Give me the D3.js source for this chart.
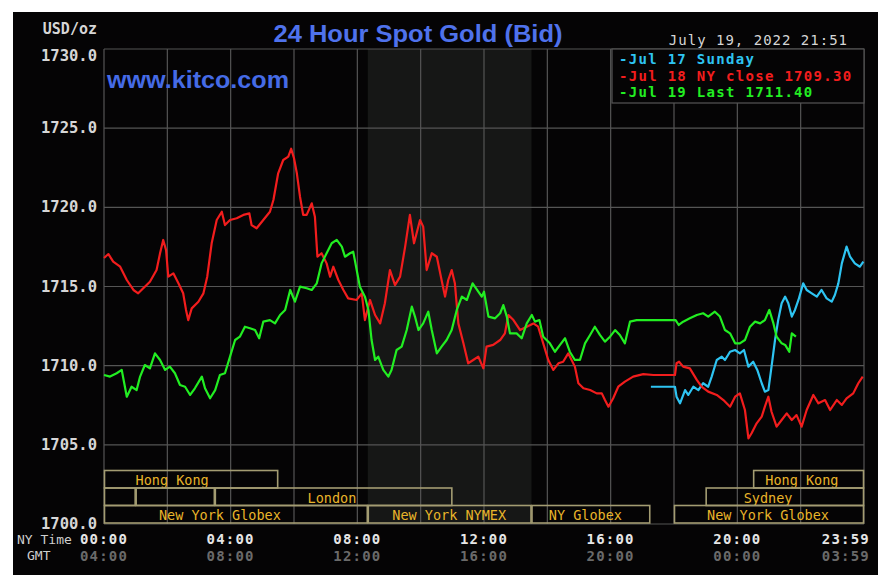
<!DOCTYPE html>
<html>
<head>
<meta charset="utf-8">
<script src="https://cdn.jsdelivr.net/npm/d3@7"></script>
<style>
  body { margin: 0; background: #fff; }
  svg { display: block; }
</style>
</head>
<body>
<div id="chart"></div>
<script>
// 24 hour spot gold chart
// time is in NY hours (0 = 00:00), price in USD/oz

const PRICE_TICKS = [1700, 1705, 1710, 1715, 1720, 1725, 1730];
const NY_TICKS = ['00:00', '04:00', '08:00', '12:00', '16:00', '20:00', '23:59'];
const GMT_TICKS = ['04:00', '08:00', '12:00', '16:00', '20:00', '00:00', '03:59'];
const TICK_HOURS = [0, 4, 8, 12, 16, 20, 24];

const LEGEND = [
    { label: '-Jul 17 Sunday', color: '#2ec4f2' },
    { label: '-Jul 18 NY close 1709.30', color: '#f21d1d' },
    { label: '-Jul 19 Last 1711.40', color: '#22ee22' }
];

// NYMEX session shading
const NYMEX = [8.33, 13.5];

// market sessions: row, start, end, label, label position (hours)
const MARKETS = [
    [0, 0, 5.5, 'Hong Kong', 2.15],
    [0, 20.5, 24, 'Hong Kong', 22.04],
    [1, 0, 1, '', 0],
    [1, 1, 3.5, '', 0],
    [1, 3.5, 11, 'London', 7.2],
    [1, 19, 24, 'Sydney', 20.97],
    [2, 0, 8.33, 'New York Globex', 3.66],
    [2, 8.33, 13.5, 'New York NYMEX', 10.9],
    [2, 13.5, 17.25, 'NY Globex', 15.2],
    [2, 18, 24, 'New York Globex', 20.97]
];

const sunday = [
    [17.27, 1708.67], [18.03, 1708.67], [18.08, 1708.04], [18.19, 1707.62], [18.35, 1708.46],
    [18.45, 1708.15], [18.61, 1708.67], [18.77, 1708.46], [18.92, 1708.89], [19.08, 1708.67],
    [19.19, 1709.31], [19.35, 1710.36], [19.51, 1710.57], [19.61, 1710.36], [19.77, 1710.88],
    [19.93, 1710.99], [20.08, 1710.78], [20.21, 1710.99], [20.35, 1709.94], [20.50, 1710.25],
    [20.63, 1709.73], [20.77, 1708.89], [20.87, 1708.36], [20.98, 1708.46], [21.08, 1709.94],
    [21.19, 1711.62], [21.29, 1712.88], [21.40, 1713.94], [21.51, 1714.36], [21.61, 1713.94],
    [21.72, 1713.10], [21.82, 1713.52], [21.93, 1714.15], [22.08, 1715.20], [22.19, 1714.78],
    [22.35, 1714.57], [22.51, 1714.36], [22.66, 1714.78], [22.82, 1714.25], [22.98, 1714.04],
    [23.08, 1714.46], [23.19, 1715.20], [23.30, 1716.46], [23.45, 1717.52], [23.56, 1716.88],
    [23.71, 1716.46], [23.87, 1716.25], [23.98, 1716.57]
];

const nyClose = [
    [0.00, 1716.80], [0.14, 1717.05], [0.29, 1716.57], [0.51, 1716.25], [0.72, 1715.41],
    [0.93, 1714.78], [1.08, 1714.57], [1.24, 1714.89], [1.45, 1715.30], [1.66, 1716.04],
    [1.77, 1717.10], [1.87, 1717.94], [1.96, 1717.30], [2.03, 1715.62], [2.19, 1715.83],
    [2.35, 1715.20], [2.50, 1714.57], [2.59, 1713.52], [2.66, 1712.88], [2.77, 1713.62],
    [2.98, 1714.04], [3.14, 1714.57], [3.26, 1715.62], [3.40, 1717.73], [3.56, 1719.20],
    [3.72, 1719.72], [3.82, 1718.88], [3.98, 1719.20], [4.19, 1719.31], [4.40, 1719.52],
    [4.59, 1719.62], [4.66, 1718.88], [4.82, 1718.68], [5.03, 1719.20], [5.24, 1719.72],
    [5.35, 1720.46], [5.50, 1722.15], [5.66, 1722.99], [5.82, 1723.20], [5.91, 1723.70],
    [6.00, 1723.10], [6.09, 1722.15], [6.19, 1720.67], [6.29, 1719.52], [6.40, 1719.52],
    [6.56, 1720.25], [6.66, 1719.41], [6.74, 1716.88], [6.87, 1717.10], [7.03, 1716.46],
    [7.14, 1715.62], [7.24, 1716.25], [7.40, 1715.41], [7.56, 1714.78], [7.71, 1714.25],
    [7.98, 1714.15], [8.14, 1714.57], [8.24, 1712.88], [8.40, 1714.15], [8.56, 1713.20],
    [8.72, 1712.67], [8.87, 1713.94], [9.03, 1716.04], [9.19, 1715.09], [9.35, 1715.62],
    [9.51, 1717.52], [9.66, 1719.52], [9.79, 1717.73], [9.98, 1719.20], [10.08, 1718.78],
    [10.19, 1716.04], [10.35, 1717.10], [10.51, 1716.88], [10.66, 1715.41], [10.77, 1714.36],
    [10.87, 1715.41], [10.98, 1716.04], [11.08, 1715.20], [11.19, 1712.67], [11.35, 1711.41],
    [11.50, 1710.15], [11.66, 1710.36], [11.82, 1710.57], [11.98, 1709.83], [12.08, 1711.20],
    [12.29, 1711.31], [12.51, 1711.62], [12.66, 1712.04], [12.77, 1713.20], [12.93, 1712.88],
    [13.14, 1712.25], [13.35, 1712.46], [13.56, 1712.67], [13.71, 1712.46], [13.87, 1711.41],
    [14.03, 1710.36], [14.19, 1709.73], [14.35, 1710.15], [14.50, 1710.25], [14.66, 1710.78],
    [14.87, 1709.94], [14.98, 1708.89], [15.14, 1708.57], [15.35, 1708.46], [15.56, 1708.25],
    [15.72, 1708.25], [15.82, 1707.83], [15.93, 1707.41], [16.08, 1707.94], [16.24, 1708.67],
    [16.45, 1708.99], [16.71, 1709.31], [17.03, 1709.47], [17.35, 1709.41], [18.03, 1709.41],
    [18.08, 1710.15], [18.16, 1710.25], [18.29, 1709.94], [18.50, 1709.83], [18.72, 1709.10],
    [18.87, 1708.67], [19.08, 1708.36], [19.35, 1708.15], [19.56, 1707.83], [19.77, 1707.41],
    [19.93, 1708.04], [20.08, 1708.25], [20.24, 1707.20], [20.35, 1705.41], [20.45, 1705.73],
    [20.61, 1706.36], [20.77, 1706.78], [20.87, 1707.41], [20.98, 1708.04], [21.08, 1707.09],
    [21.24, 1706.15], [21.40, 1706.57], [21.56, 1706.99], [21.72, 1706.57], [21.87, 1706.88],
    [22.03, 1706.15], [22.19, 1707.20], [22.40, 1708.15], [22.56, 1707.62], [22.77, 1707.83],
    [22.93, 1707.20], [23.14, 1707.83], [23.30, 1707.52], [23.45, 1707.94], [23.66, 1708.25],
    [23.82, 1708.89], [23.96, 1709.31]
];

const lastDay = [
    [0.00, 1709.41], [0.19, 1709.31], [0.40, 1709.52], [0.56, 1709.73], [0.72, 1708.04],
    [0.87, 1708.67], [1.03, 1708.46], [1.14, 1709.31], [1.29, 1710.04], [1.45, 1709.83],
    [1.61, 1710.78], [1.77, 1710.36], [1.93, 1709.73], [2.08, 1709.94], [2.24, 1709.52],
    [2.40, 1708.78], [2.56, 1708.67], [2.72, 1708.15], [2.87, 1708.57], [3.09, 1709.31],
    [3.19, 1708.57], [3.35, 1707.94], [3.51, 1708.46], [3.66, 1709.41], [3.82, 1709.52],
    [3.98, 1710.57], [4.14, 1711.62], [4.29, 1711.83], [4.45, 1712.46], [4.61, 1712.36],
    [4.77, 1712.25], [4.90, 1711.73], [5.03, 1712.78], [5.24, 1712.88], [5.40, 1712.67],
    [5.56, 1713.20], [5.72, 1713.52], [5.88, 1714.78], [6.03, 1714.04], [6.19, 1714.99],
    [6.40, 1714.89], [6.56, 1714.78], [6.72, 1715.20], [6.87, 1716.46], [7.03, 1717.10],
    [7.19, 1717.73], [7.35, 1717.94], [7.51, 1717.52], [7.61, 1716.88], [7.77, 1717.10],
    [7.87, 1717.20], [7.98, 1716.04], [8.08, 1714.99], [8.24, 1714.36], [8.35, 1713.52],
    [8.45, 1711.62], [8.56, 1710.36], [8.66, 1710.57], [8.82, 1709.73], [8.98, 1709.31],
    [9.08, 1709.73], [9.24, 1710.99], [9.40, 1711.20], [9.56, 1712.25], [9.72, 1713.73],
    [9.82, 1713.10], [9.93, 1712.25], [10.08, 1712.67], [10.24, 1713.41], [10.35, 1712.25],
    [10.51, 1710.78], [10.66, 1711.20], [10.82, 1711.62], [10.98, 1712.25], [11.14, 1713.52],
    [11.30, 1714.36], [11.46, 1714.15], [11.64, 1715.20], [11.82, 1714.67], [11.93, 1714.36],
    [12.00, 1714.67], [12.14, 1713.10], [12.35, 1712.99], [12.51, 1713.31], [12.61, 1713.83],
    [12.72, 1713.10], [12.82, 1712.04], [13.03, 1712.04], [13.19, 1711.73], [13.35, 1712.67],
    [13.51, 1713.20], [13.61, 1712.78], [13.75, 1712.88], [13.87, 1711.83], [14.08, 1711.41],
    [14.24, 1710.88], [14.40, 1711.31], [14.56, 1711.73], [14.71, 1710.88], [14.87, 1710.36],
    [15.03, 1710.36], [15.19, 1711.41], [15.35, 1711.94], [15.50, 1712.46], [15.66, 1711.94],
    [15.82, 1711.52], [15.98, 1711.83], [16.14, 1712.25], [16.29, 1711.94], [16.45, 1711.41],
    [16.61, 1712.78], [16.82, 1712.88], [17.03, 1712.88], [18.05, 1712.88], [18.15, 1712.57],
    [18.29, 1712.78], [18.50, 1712.99], [18.72, 1713.20], [18.92, 1713.31], [19.08, 1713.10],
    [19.29, 1713.41], [19.45, 1713.10], [19.61, 1712.25], [19.77, 1712.04], [19.93, 1711.41],
    [20.08, 1711.41], [20.24, 1711.62], [20.40, 1712.46], [20.56, 1712.78], [20.72, 1712.67],
    [20.87, 1712.88], [21.01, 1713.52], [21.14, 1712.67], [21.24, 1711.83], [21.40, 1711.41],
    [21.51, 1711.31], [21.64, 1710.88], [21.72, 1712.04], [21.85, 1711.83]
];

(function () {
    const W = 890, H = 587;
    const left = 104, right = 864, top = 49, bottom = 524;
    const GRID = '#555555';
    const MONO = '"DejaVu Sans Mono", "Liberation Mono", monospace';

    const svg = d3.select('#chart').append('svg').attr('width', W).attr('height', H);

    // black panel
    svg.append('rect').attr('x', 13).attr('y', 12).attr('width', 865).attr('height', 563).attr('fill', '#050405');

    const x = d3.scaleLinear().domain([0, 24]).range([left, right]);
    const y = d3.scaleLinear().domain([1700, 1730]).range([bottom, top]);

    // NYMEX shaded band
    svg.append('rect')
        .attr('x', x(NYMEX[0])).attr('y', top)
        .attr('width', x(NYMEX[1]) - x(NYMEX[0])).attr('height', bottom - top)
        .attr('fill', '#161716');

    // grid
    const grid = svg.append('g').attr('stroke', GRID).attr('stroke-width', 1.2);
    d3.range(0, 25, 2).forEach(h => {
        grid.append('line').attr('x1', x(h)).attr('x2', x(h)).attr('y1', top).attr('y2', bottom);
    });
    PRICE_TICKS.forEach(v => {
        grid.append('line').attr('x1', left).attr('x2', right).attr('y1', y(v)).attr('y2', y(v));
    });

    // market session boxes
    const rowTop = [470.5, 488, 505.5];
    const rowH = 17.5;
    const mk = svg.append('g');
    MARKETS.forEach(m => {
        const [row, s, e, label, at] = m;
        mk.append('rect')
            .attr('x', x(s) + 0.5).attr('y', rowTop[row])
            .attr('width', x(e) - x(s) - 1).attr('height', rowH)
            .attr('fill', 'none').attr('stroke', '#a39c72').attr('stroke-width', 1.6);
        if (label) {
            mk.append('text').attr('x', x(at)).attr('y', rowTop[row] + rowH / 2 + 1)
                .attr('text-anchor', 'middle').attr('dominant-baseline', 'central')
                .style('font-family', MONO).style('font-size', '13.5px')
                .attr('fill', '#e9b52a').text(label);
        }
    });

    // price lines
    const line = d3.line().x(d => x(d[0])).y(d => y(d[1]));
    [[sunday, LEGEND[0].color], [nyClose, LEGEND[1].color], [lastDay, LEGEND[2].color]].forEach(([data, color]) => {
        svg.append('path').datum(data).attr('d', line)
            .attr('fill', 'none').attr('stroke', color).attr('stroke-width', 2.2)
            .attr('stroke-linejoin', 'round');
    });

    // legend box
    const lg = svg.append('g');
    lg.append('rect').attr('x', 612).attr('y', top).attr('width', right - 612).attr('height', 54)
        .attr('fill', '#050405').attr('stroke', GRID).attr('stroke-width', 1.2);
    LEGEND.forEach((d, i) => {
        lg.append('text').attr('x', 619).attr('y', 64 + i * 16.5)
            .style('font-family', MONO).style('font-size', '14px').style('font-weight', 'bold')
            .style('letter-spacing', '1.3px')
            .attr('fill', d.color).text(d.label);
    });

    // titles
    svg.append('text').attr('x', 418).attr('y', 42).attr('text-anchor', 'middle')
        .style('font-family', '"Liberation Sans", Arial, sans-serif').style('font-size', '23px').style('font-weight', 'bold')
        .attr('textLength', 289).attr('lengthAdjust', 'spacingAndGlyphs')
        .attr('fill', '#4f72ec').text('24 Hour Spot Gold (Bid)');
    svg.append('text').attr('x', 107).attr('y', 88)
        .style('font-family', '"Liberation Sans", Arial, sans-serif').style('font-size', '23px').style('font-weight', 'bold')
        .attr('textLength', 182).attr('lengthAdjust', 'spacingAndGlyphs')
        .attr('fill', '#456be6').text('www.kitco.com');
    svg.append('text').attr('x', 848).attr('y', 45).attr('text-anchor', 'end')
        .style('font-family', MONO).style('font-size', '14px')
        .style('letter-spacing', '1px')
        .attr('fill', '#d6d6d6').text('July 19, 2022 21:51');
    svg.append('text').attr('x', 97).attr('y', 34).attr('text-anchor', 'end')
        .style('font-family', MONO).style('font-size', '15px').style('font-weight', 'bold')
        .attr('fill', '#d6d6d6').text('USD/oz');

    // y axis labels
    PRICE_TICKS.forEach(v => {
        svg.append('text').attr('x', 97).attr('y', Math.max(y(v), 56))
            .attr('text-anchor', 'end').attr('dominant-baseline', 'central')
            .style('font-family', MONO).style('font-size', '15.5px').style('font-weight', 'bold')
            .attr('fill', '#d6d6d6').text(v.toFixed(1));
    });

    // x axis labels
    svg.append('text').attr('x', 17).attr('y', 544)
        .style('font-family', MONO).style('font-size', '13px')
        .attr('fill', '#cfcfcf').text('NY Time');
    svg.append('text').attr('x', 27).attr('y', 560)
        .style('font-family', MONO).style('font-size', '13px')
        .attr('fill', '#cfcfcf').text('GMT');
    TICK_HOURS.forEach((h, i) => {
        const last = i === TICK_HOURS.length - 1;
        const tx = last ? x(h) + 6 : x(h);
        const anchor = last ? 'end' : 'middle';
        svg.append('text').attr('x', tx).attr('y', 544).attr('text-anchor', anchor)
            .style('font-family', MONO).style('font-size', '14px').style('font-weight', 'bold')
            .style('letter-spacing', '1.2px')
            .attr('fill', '#e6e6e6').text(NY_TICKS[i]);
        svg.append('text').attr('x', tx).attr('y', 561).attr('text-anchor', anchor)
            .style('font-family', MONO).style('font-size', '14px').style('font-weight', 'bold')
            .style('letter-spacing', '1.2px')
            .attr('fill', '#6a6a6a').text(GMT_TICKS[i]);
    });
})();
</script>
</body>
</html>
